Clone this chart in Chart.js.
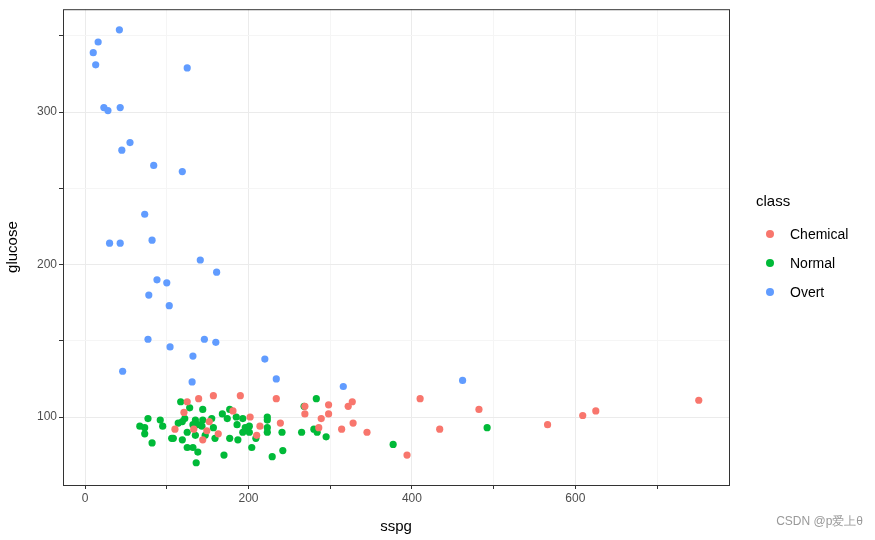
<!DOCTYPE html>
<html><head><meta charset="utf-8">
<script src="https://cdn.jsdelivr.net/npm/chart.js@4"></script>
<style>
body{margin:0;background:#fff;font-family:Arial,"Liberation Sans",sans-serif}
#wrap{position:relative;width:875px;height:540px}
#leg{position:absolute;left:756px;top:192px;font-size:14px;color:#000}
#leg .t{font-size:15px;margin-bottom:10px}
#leg .r{height:29px;display:flex;align-items:center}
#leg .d{width:8px;height:8px;border-radius:50%;margin:0 16px 0 10px}
#wm{position:absolute;right:12px;bottom:10px;font-size:12px;color:#999}
</style></head><body>
<div id="wrap"><canvas id="c" width="875" height="540"></canvas>
<div id="leg"><div class="t">class</div>
<div class="r"><span class="d" style="background:#F8766D"></span>Chemical</div>
<div class="r"><span class="d" style="background:#00BA38"></span>Normal</div>
<div class="r"><span class="d" style="background:#619CFF"></span>Overt</div></div>
<div id="wm">CSDN @p爱上θ</div></div>
<script>
const classes=["Chemical","Normal","Overt"];
const chemical=[[125,110],[139,112],[157,114],[190,114],[234,112],[121,103],[181,104],[202,100],[152,97],[110,92],[133,92],[149,91],[163,89],[144,85],[214,94],[210,88],[239,96],[298,108],[269,107],[269,102],[298,102],[289,99],[286,93],[314,92],[328,96],[322,107],[327,110],[345,90],[410,112],[434,92],[482,105],[566,95],[609,101],[625,104],[751,111],[394,75]];
const normal=[[77,99],[73,93],[73,89],[82,83],[95,94],[117,110],[128,106],[144,105],[122,99],[114,96],[119,97],[135,98],[138,95],[144,98],[155,99],[132,95],[143,94],[157,93],[125,90],[135,88],[147,88],[159,86],[108,86],[119,85],[106,86],[125,80],[132,80],[138,77],[136,70],[168,102],[174,99],[185,100],[193,99],[186,95],[196,93],[201,94],[193,90],[201,90],[177,86],[187,85],[209,86],[204,80],[170,75],[223,100],[223,98],[223,93],[223,90],[241,90],[242,78],[229,74],[268,107],[283,112],[265,90],[280,92],[284,90],[295,87],[377,82],[492,93],[67,94],[92,98],[177,105]];
const overt=[[10,339],[16,346],[13,331],[42,354],[125,329],[23,303],[28,301],[43,303],[55,280],[45,275],[84,265],[119,261],[73,233],[30,214],[43,214],[82,216],[141,203],[161,195],[88,190],[100,188],[78,180],[103,173],[146,151],[160,149],[77,151],[104,146],[132,140],[220,138],[46,130],[234,125],[131,123],[316,120],[462,124]];
const xTicks=[0,100,200,300,400,500,600,700];
const yTicks=[100,150,200,250,300,350];
const colors=["#F8766D","#00BA38","#619CFF"];
const series=[chemical,normal,overt];
const border={id:'b',afterDraw(c){const a=c.chartArea,x=c.ctx;x.save();x.strokeStyle='#333';x.lineWidth=1;x.strokeRect(a.left+.5,a.top+.5,a.right-a.left,a.bottom-a.top);x.restore();}};
new Chart(document.getElementById('c'),{type:'scatter',
data:{datasets:classes.map((n,i)=>({label:n,data:series[i].map(p=>({x:p[0],y:p[1]})),backgroundColor:colors[i],borderWidth:0,pointRadius:3.6}))},
options:{responsive:false,animation:false,layout:{padding:{top:9,right:146,left:0,bottom:0}},
plugins:{legend:{display:false},tooltip:{enabled:false}},
scales:{
x:{min:-27,max:788,afterBuildTicks:s=>{s.ticks=xTicks.map(v=>({value:v}))},afterFit:s=>{s.height=55},
grid:{color:c=>c.tick&&c.tick.value%200===0?'#EBEBEB':'#F5F5F5',tickLength:4,tickColor:'#333',drawTicks:true},border:{display:false},
ticks:{color:'#4D4D4D',font:{size:12},padding:2,maxRotation:0,autoSkip:false,callback:v=>v%200===0?v:''},
title:{display:true,text:'sspg',color:'#000',font:{size:15},padding:{top:0}}},
y:{min:55.4,max:367.5,afterBuildTicks:s=>{s.ticks=yTicks.map(v=>({value:v}))},afterFit:s=>{s.width=63},
grid:{color:c=>c.tick&&c.tick.value%100===0?'#EBEBEB':'#F5F5F5',tickLength:4,tickColor:'#333'},border:{display:false},
ticks:{color:'#4D4D4D',font:{size:12},padding:2,autoSkip:false,callback:v=>v%100===0?v:''},
title:{display:true,text:'glucose',color:'#000',font:{size:15},padding:{bottom:4}}}}},
plugins:[border]});
</script></body></html>
